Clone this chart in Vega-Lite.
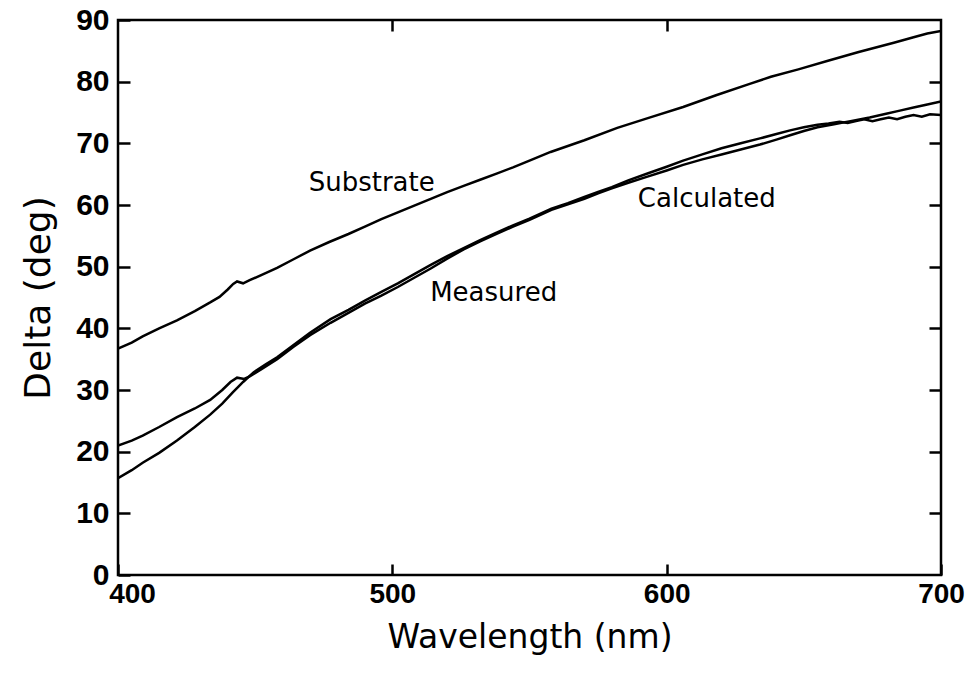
{
  "$schema": "https://vega.github.io/schema/vega-lite/v6.json",
  "width": 823,
  "height": 555,
  "autosize": {"type": "none"},
  "padding": {"left": 118, "top": 20, "right": 38, "bottom": 108},
  "background": "white",
  "config": {
    "view": {"stroke": "black", "strokeWidth": 2.5},
    "font": "DejaVu Sans",
    "axis": {
      "grid": false,
      "domain": false,
      "tickColor": "black",
      "tickWidth": 2.5,
      "labelColor": "black",
      "titleColor": "black",
      "labelFont": "Liberation Sans",
      "labelFontWeight": "bold",
      "labelFlush": false,
      "titleFont": "DejaVu Sans",
      "titleFontWeight": "normal"
    }
  },
  "resolve": {"axis": {"x": "independent", "y": "independent"}},
  "layer": [
    {
      "data": {
        "values": [
          {"wavelength": 400, "delta": 36.7, "series": "Substrate"},
          {"wavelength": 405, "delta": 37.7, "series": "Substrate"},
          {"wavelength": 409, "delta": 38.7, "series": "Substrate"},
          {"wavelength": 415, "delta": 40.0, "series": "Substrate"},
          {"wavelength": 421.5, "delta": 41.3, "series": "Substrate"},
          {"wavelength": 428, "delta": 42.8, "series": "Substrate"},
          {"wavelength": 433.6, "delta": 44.2, "series": "Substrate"},
          {"wavelength": 437, "delta": 45.1, "series": "Substrate"},
          {"wavelength": 440, "delta": 46.3, "series": "Substrate"},
          {"wavelength": 442, "delta": 47.2, "series": "Substrate"},
          {"wavelength": 443.4, "delta": 47.6, "series": "Substrate"},
          {"wavelength": 445.6, "delta": 47.3, "series": "Substrate"},
          {"wavelength": 448, "delta": 47.8, "series": "Substrate"},
          {"wavelength": 452, "delta": 48.6, "series": "Substrate"},
          {"wavelength": 458, "delta": 49.8, "series": "Substrate"},
          {"wavelength": 464, "delta": 51.2, "series": "Substrate"},
          {"wavelength": 470, "delta": 52.6, "series": "Substrate"},
          {"wavelength": 477, "delta": 54.0, "series": "Substrate"},
          {"wavelength": 484, "delta": 55.3, "series": "Substrate"},
          {"wavelength": 490, "delta": 56.5, "series": "Substrate"},
          {"wavelength": 496, "delta": 57.7, "series": "Substrate"},
          {"wavelength": 502, "delta": 58.8, "series": "Substrate"},
          {"wavelength": 508, "delta": 59.9, "series": "Substrate"},
          {"wavelength": 514, "delta": 61.0, "series": "Substrate"},
          {"wavelength": 520, "delta": 62.1, "series": "Substrate"},
          {"wavelength": 526, "delta": 63.1, "series": "Substrate"},
          {"wavelength": 532, "delta": 64.1, "series": "Substrate"},
          {"wavelength": 538, "delta": 65.1, "series": "Substrate"},
          {"wavelength": 544, "delta": 66.1, "series": "Substrate"},
          {"wavelength": 550, "delta": 67.2, "series": "Substrate"},
          {"wavelength": 557.7, "delta": 68.6, "series": "Substrate"},
          {"wavelength": 570, "delta": 70.5, "series": "Substrate"},
          {"wavelength": 582, "delta": 72.5, "series": "Substrate"},
          {"wavelength": 594, "delta": 74.2, "series": "Substrate"},
          {"wavelength": 606, "delta": 75.9, "series": "Substrate"},
          {"wavelength": 618, "delta": 77.8, "series": "Substrate"},
          {"wavelength": 630, "delta": 79.6, "series": "Substrate"},
          {"wavelength": 638, "delta": 80.8, "series": "Substrate"},
          {"wavelength": 648, "delta": 82.0, "series": "Substrate"},
          {"wavelength": 658.8, "delta": 83.4, "series": "Substrate"},
          {"wavelength": 670, "delta": 84.8, "series": "Substrate"},
          {"wavelength": 682.8, "delta": 86.3, "series": "Substrate"},
          {"wavelength": 690, "delta": 87.2, "series": "Substrate"},
          {"wavelength": 695, "delta": 87.8, "series": "Substrate"},
          {"wavelength": 700, "delta": 88.2, "series": "Substrate"},

          {"wavelength": 400, "delta": 15.7, "series": "Measured"},
          {"wavelength": 405, "delta": 17.0, "series": "Measured"},
          {"wavelength": 409, "delta": 18.2, "series": "Measured"},
          {"wavelength": 415, "delta": 19.8, "series": "Measured"},
          {"wavelength": 421.5, "delta": 21.8, "series": "Measured"},
          {"wavelength": 428, "delta": 24.0, "series": "Measured"},
          {"wavelength": 433.6, "delta": 26.0, "series": "Measured"},
          {"wavelength": 438, "delta": 27.8, "series": "Measured"},
          {"wavelength": 442, "delta": 29.7, "series": "Measured"},
          {"wavelength": 444, "delta": 30.6, "series": "Measured"},
          {"wavelength": 445.6, "delta": 31.3, "series": "Measured"},
          {"wavelength": 449.5, "delta": 32.9, "series": "Measured"},
          {"wavelength": 454, "delta": 34.2, "series": "Measured"},
          {"wavelength": 458, "delta": 35.3, "series": "Measured"},
          {"wavelength": 464, "delta": 37.3, "series": "Measured"},
          {"wavelength": 470, "delta": 39.3, "series": "Measured"},
          {"wavelength": 477.5, "delta": 41.5, "series": "Measured"},
          {"wavelength": 484, "delta": 43.0, "series": "Measured"},
          {"wavelength": 490, "delta": 44.5, "series": "Measured"},
          {"wavelength": 496, "delta": 45.9, "series": "Measured"},
          {"wavelength": 502, "delta": 47.3, "series": "Measured"},
          {"wavelength": 508, "delta": 48.8, "series": "Measured"},
          {"wavelength": 514, "delta": 50.3, "series": "Measured"},
          {"wavelength": 520, "delta": 51.7, "series": "Measured"},
          {"wavelength": 526, "delta": 53.0, "series": "Measured"},
          {"wavelength": 532, "delta": 54.3, "series": "Measured"},
          {"wavelength": 538, "delta": 55.5, "series": "Measured"},
          {"wavelength": 544, "delta": 56.7, "series": "Measured"},
          {"wavelength": 550, "delta": 57.8, "series": "Measured"},
          {"wavelength": 558, "delta": 59.4, "series": "Measured"},
          {"wavelength": 564, "delta": 60.3, "series": "Measured"},
          {"wavelength": 570, "delta": 61.3, "series": "Measured"},
          {"wavelength": 575, "delta": 62.1, "series": "Measured"},
          {"wavelength": 580, "delta": 62.9, "series": "Measured"},
          {"wavelength": 586, "delta": 64.0, "series": "Measured"},
          {"wavelength": 593, "delta": 65.1, "series": "Measured"},
          {"wavelength": 600, "delta": 66.2, "series": "Measured"},
          {"wavelength": 606, "delta": 67.2, "series": "Measured"},
          {"wavelength": 613, "delta": 68.2, "series": "Measured"},
          {"wavelength": 620, "delta": 69.2, "series": "Measured"},
          {"wavelength": 627, "delta": 70.0, "series": "Measured"},
          {"wavelength": 634, "delta": 70.8, "series": "Measured"},
          {"wavelength": 640, "delta": 71.5, "series": "Measured"},
          {"wavelength": 645, "delta": 72.1, "series": "Measured"},
          {"wavelength": 650, "delta": 72.6, "series": "Measured"},
          {"wavelength": 655, "delta": 73.0, "series": "Measured"},
          {"wavelength": 659, "delta": 73.2, "series": "Measured"},
          {"wavelength": 663, "delta": 73.5, "series": "Measured"},
          {"wavelength": 666, "delta": 73.3, "series": "Measured"},
          {"wavelength": 669, "delta": 73.6, "series": "Measured"},
          {"wavelength": 672, "delta": 73.9, "series": "Measured"},
          {"wavelength": 675, "delta": 73.6, "series": "Measured"},
          {"wavelength": 678, "delta": 73.9, "series": "Measured"},
          {"wavelength": 681, "delta": 74.2, "series": "Measured"},
          {"wavelength": 684, "delta": 73.9, "series": "Measured"},
          {"wavelength": 687, "delta": 74.3, "series": "Measured"},
          {"wavelength": 690, "delta": 74.6, "series": "Measured"},
          {"wavelength": 693, "delta": 74.3, "series": "Measured"},
          {"wavelength": 696, "delta": 74.7, "series": "Measured"},
          {"wavelength": 700, "delta": 74.6, "series": "Measured"},

          {"wavelength": 400, "delta": 21.0, "series": "Calculated"},
          {"wavelength": 405, "delta": 21.8, "series": "Calculated"},
          {"wavelength": 409, "delta": 22.6, "series": "Calculated"},
          {"wavelength": 415, "delta": 24.0, "series": "Calculated"},
          {"wavelength": 421.5, "delta": 25.6, "series": "Calculated"},
          {"wavelength": 428, "delta": 27.0, "series": "Calculated"},
          {"wavelength": 433.6, "delta": 28.4, "series": "Calculated"},
          {"wavelength": 438, "delta": 30.0, "series": "Calculated"},
          {"wavelength": 441, "delta": 31.3, "series": "Calculated"},
          {"wavelength": 443.4, "delta": 32.0, "series": "Calculated"},
          {"wavelength": 446, "delta": 31.8, "series": "Calculated"},
          {"wavelength": 448, "delta": 32.2, "series": "Calculated"},
          {"wavelength": 452, "delta": 33.3, "series": "Calculated"},
          {"wavelength": 458, "delta": 35.0, "series": "Calculated"},
          {"wavelength": 464, "delta": 37.0, "series": "Calculated"},
          {"wavelength": 470, "delta": 38.9, "series": "Calculated"},
          {"wavelength": 477.5, "delta": 40.9, "series": "Calculated"},
          {"wavelength": 484, "delta": 42.5, "series": "Calculated"},
          {"wavelength": 490, "delta": 44.0, "series": "Calculated"},
          {"wavelength": 496, "delta": 45.3, "series": "Calculated"},
          {"wavelength": 502, "delta": 46.7, "series": "Calculated"},
          {"wavelength": 508, "delta": 48.2, "series": "Calculated"},
          {"wavelength": 514, "delta": 49.7, "series": "Calculated"},
          {"wavelength": 520, "delta": 51.3, "series": "Calculated"},
          {"wavelength": 526, "delta": 52.8, "series": "Calculated"},
          {"wavelength": 532, "delta": 54.1, "series": "Calculated"},
          {"wavelength": 538, "delta": 55.3, "series": "Calculated"},
          {"wavelength": 544, "delta": 56.5, "series": "Calculated"},
          {"wavelength": 550, "delta": 57.6, "series": "Calculated"},
          {"wavelength": 558, "delta": 59.2, "series": "Calculated"},
          {"wavelength": 564, "delta": 60.1, "series": "Calculated"},
          {"wavelength": 570, "delta": 61.0, "series": "Calculated"},
          {"wavelength": 575, "delta": 61.9, "series": "Calculated"},
          {"wavelength": 580, "delta": 62.7, "series": "Calculated"},
          {"wavelength": 586, "delta": 63.6, "series": "Calculated"},
          {"wavelength": 593, "delta": 64.6, "series": "Calculated"},
          {"wavelength": 600, "delta": 65.6, "series": "Calculated"},
          {"wavelength": 606, "delta": 66.5, "series": "Calculated"},
          {"wavelength": 613, "delta": 67.4, "series": "Calculated"},
          {"wavelength": 620, "delta": 68.2, "series": "Calculated"},
          {"wavelength": 627, "delta": 69.0, "series": "Calculated"},
          {"wavelength": 634, "delta": 69.8, "series": "Calculated"},
          {"wavelength": 640, "delta": 70.6, "series": "Calculated"},
          {"wavelength": 645, "delta": 71.3, "series": "Calculated"},
          {"wavelength": 650, "delta": 72.0, "series": "Calculated"},
          {"wavelength": 655, "delta": 72.6, "series": "Calculated"},
          {"wavelength": 661, "delta": 73.1, "series": "Calculated"},
          {"wavelength": 667, "delta": 73.6, "series": "Calculated"},
          {"wavelength": 674, "delta": 74.2, "series": "Calculated"},
          {"wavelength": 680, "delta": 74.8, "series": "Calculated"},
          {"wavelength": 685, "delta": 75.3, "series": "Calculated"},
          {"wavelength": 690, "delta": 75.8, "series": "Calculated"},
          {"wavelength": 695, "delta": 76.3, "series": "Calculated"},
          {"wavelength": 700, "delta": 76.8, "series": "Calculated"}
        ]
      },
      "mark": {"type": "line", "color": "black", "strokeWidth": 2.5, "clip": true},
      "encoding": {
        "x": {
          "field": "wavelength",
          "type": "quantitative",
          "scale": {"domain": [400, 700], "nice": false, "zero": false},
          "axis": {
            "orient": "bottom",
            "title": "Wavelength (nm)",
            "values": [400, 500, 600, 700],
            "tickSize": -11,
            "labelPadding": 16,
            "labelFontSize": 28,
            "labelOffset": {"condition": {"test": "datum.value == 400", "value": 14}, "value": 0},
            "titleFontSize": 33,
            "titlePadding": 13
          }
        },
        "y": {
          "field": "delta",
          "type": "quantitative",
          "scale": {"domain": [0, 90], "nice": false, "zero": false},
          "axis": {
            "orient": "left",
            "title": "Delta (deg)",
            "values": [0, 10, 20, 30, 40, 50, 60, 70, 80, 90],
            "tickSize": -12,
            "labelPadding": 21,
            "labelFontSize": 30,
            "titleFontSize": 36,
            "titlePadding": 18
          }
        },
        "detail": {"field": "series", "type": "nominal"}
      }
    },
    {
      "data": {
        "values": [
          {"wavelength": 469.5, "delta": 62.2, "label": "Substrate"},
          {"wavelength": 513.8, "delta": 44.4, "label": "Measured"},
          {"wavelength": 589.5, "delta": 59.6, "label": "Calculated"}
        ]
      },
      "mark": {
        "type": "text",
        "align": "left",
        "baseline": "alphabetic",
        "font": "DejaVu Sans",
        "fontSize": 26,
        "color": "black"
      },
      "encoding": {
        "x": {
          "field": "wavelength",
          "type": "quantitative",
          "scale": {"domain": [400, 700], "nice": false, "zero": false},
          "axis": {
            "orient": "top",
            "title": null,
            "labels": false,
            "values": [500, 600],
            "tickSize": -11
          }
        },
        "y": {
          "field": "delta",
          "type": "quantitative",
          "scale": {"domain": [0, 90], "nice": false, "zero": false},
          "axis": {
            "orient": "right",
            "title": null,
            "labels": false,
            "values": [10, 20, 30, 40, 50, 60, 70, 80],
            "tickSize": -12
          }
        },
        "text": {"field": "label", "type": "nominal"}
      }
    }
  ]
}
